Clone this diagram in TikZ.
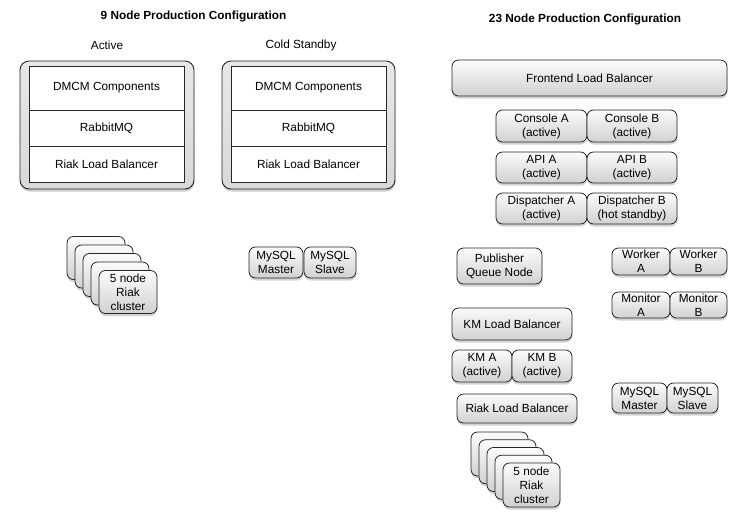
\documentclass[tikz,border=0pt]{standalone}
\usepackage{fontspec}
\setmainfont{Liberation Sans}
\usetikzlibrary{shadows}
\begin{document}
\begin{tikzpicture}[x=1pt,y=-1pt,
  every node/.style={font=\fontsize{11.8}{14}\selectfont},
  bx/.style={draw=black!85, line width=0.8pt, rounded corners=6.5pt,
    top color=gray!3, bottom color=gray!36, align=center, inner sep=0pt,
    drop shadow={shadow xshift=0.3pt, shadow yshift=-2.5pt, opacity=0.35}},
  outerbox/.style={draw=black!85, line width=0.9pt, rounded corners=9pt,
    top color=gray!18, bottom color=gray!30, inner sep=0pt,
    drop shadow={shadow xshift=0.3pt, shadow yshift=-2.5pt, opacity=0.4}},
  cell/.style={draw=black!85, line width=0.7pt, fill=white, inner sep=0pt,
    minimum width=155pt},
  title/.style={font=\fontsize{11.8}{14}\selectfont\bfseries},
  lbl/.style={font=\fontsize{11.8}{14}\selectfont}
]
\useasboundingbox (0,0) rectangle (748,531);

% titles
\node[title] (t9) at (193.5,16) {9 Node Production Configuration};
\node[title] (t23) at (585,19) {23 Node Production Configuration};
\node[lbl] (lact) at (107,45) {Active};
\node[lbl] (lcold) at (301,45) {Cold Standby};

% left configuration: active
\node[outerbox, minimum width=174pt, minimum height=128pt] (oa) at (107,125) {};
\node[cell, minimum height=44pt] (a1) at (106.5,88) {DMCM Components};
\node[cell, minimum height=36pt] (a2) at (106.5,128) {RabbitMQ};
\node[cell, minimum height=36pt] (a3) at (106.5,164) {Riak Load Balancer};

% cold standby
\node[outerbox, minimum width=173pt, minimum height=128pt] (ob) at (308.5,125) {};
\node[cell, minimum height=44pt] (b1) at (308.5,88) {DMCM Components};
\node[cell, minimum height=36pt] (b2) at (308.5,128) {RabbitMQ};
\node[cell, minimum height=36pt] (b3) at (308.5,164) {Riak Load Balancer};

% left riak cluster
\foreach \i in {4,3,2,1} {
  \node[bx, minimum width=58pt, minimum height=43pt] (lr\i) at (128-8*\i,292-8.5*\i) {};
}
\node[bx, minimum width=58pt, minimum height=43pt] (lr0) at (128,292) {5 node\\Riak\\cluster};

% left mysql
\node[bx, minimum width=54pt, minimum height=31pt] (lmm) at (276,262.5) {MySQL\\Master};
\node[bx, minimum width=52pt, minimum height=31pt] (lms) at (330,262.5) {MySQL\\Slave};

% right configuration
\node[bx, minimum width=275pt, minimum height=36pt] (flb) at (589.5,78) {Frontend Load Balancer};
\node[bx, minimum width=91pt, minimum height=32pt] (ca) at (541.5,126) {Console A\\(active)};
\node[bx, minimum width=90pt, minimum height=32pt] (cb) at (632,126) {Console B\\(active)};
\node[bx, minimum width=91pt, minimum height=31pt] (apia) at (541.5,167.5) {API A\\(active)};
\node[bx, minimum width=90pt, minimum height=31pt] (apib) at (632,167.5) {API B\\(active)};
\node[bx, minimum width=91pt, minimum height=31pt] (da) at (541.5,208.5) {Dispatcher A\\(active)};
\node[bx, minimum width=90pt, minimum height=31pt] (db) at (632,208.5) {Dispatcher B\\(hot standby)};

\node[bx, minimum width=85pt, minimum height=36pt] (pq) at (499.5,266) {Publisher\\Queue Node};
\node[bx, minimum width=58pt, minimum height=27pt] (wa) at (641,261.5) {Worker\\A};
\node[bx, minimum width=57pt, minimum height=27pt] (wb) at (698.5,261.5) {Worker\\B};
\node[bx, minimum width=58pt, minimum height=26pt] (ma) at (641,305) {Monitor\\A};
\node[bx, minimum width=57pt, minimum height=26pt] (mb) at (698.5,305) {Monitor\\B};

\node[bx, minimum width=120pt, minimum height=32pt] (kmlb) at (512,324) {KM Load Balancer};
\node[bx, minimum width=60pt, minimum height=32pt] (kma) at (482,366) {KM A\\(active)};
\node[bx, minimum width=60pt, minimum height=32pt] (kmb) at (542,366) {KM B\\(active)};
\node[bx, minimum width=120pt, minimum height=29pt] (rlb) at (517,408.5) {Riak Load Balancer};

\node[bx, minimum width=55pt, minimum height=30pt] (rmm) at (639.5,398) {MySQL\\Master};
\node[bx, minimum width=51pt, minimum height=30pt] (rms) at (692.5,398) {MySQL\\Slave};

% right riak cluster
\foreach \i in {4,3,2,1} {
  \node[bx, minimum width=57pt, minimum height=44pt] (rr\i) at (531.5-8*\i,485-7.75*\i) {};
}
\node[bx, minimum width=57pt, minimum height=44pt] (rr0) at (531.5,485) {5 node\\Riak\\cluster};
\end{tikzpicture}
\end{document}
